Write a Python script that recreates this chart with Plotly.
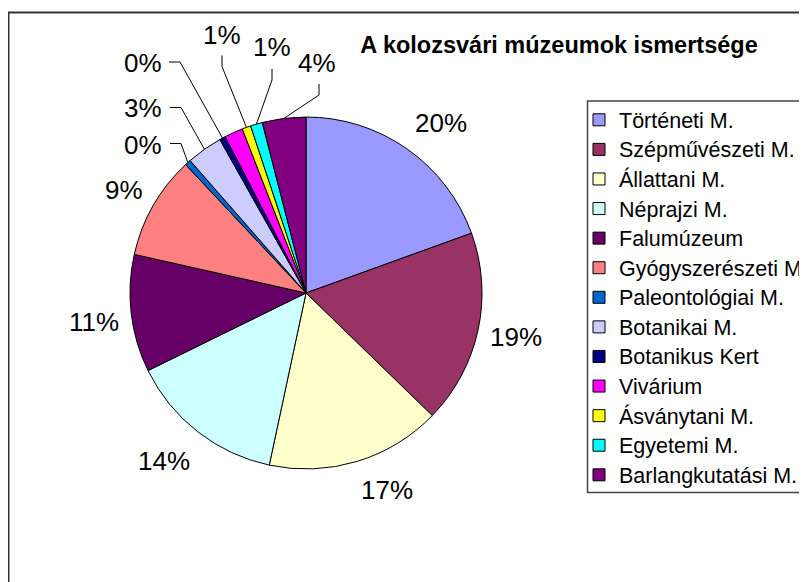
import math
import plotly.graph_objects as go

# ---- data ----
museums = [
    "Történeti M.", "Szépművészeti M.", "Állattani M.", "Néprajzi M.",
    "Falumúzeum", "Gyógyszerészeti M.", "Paleontológiai M.", "Botanikai M.",
    "Botanikus Kert", "Vivárium", "Ásványtani M.", "Egyetemi M.",
    "Barlangkutatási M.",
]
shares = [19.5, 17.8, 16.1, 14.4, 10.8, 9.5, 0.55, 3.3, 0.55, 1.7, 0.8, 1.1, 4.0]
pct_labels = ["20%", "19%", "17%", "14%", "11%", "9%", "0%", "3%", "0%", "", "1%", "1%", "4%"]
colors = [
    "#9999FF", "#993366", "#FFFFCC", "#CCFFFF", "#660066", "#FF8080",
    "#0066CC", "#CCCCFF", "#000080", "#FF00FF", "#FFFF00", "#00FFFF", "#800080",
]
title_text = "A kolozsvári múzeumok ismertsége"

# ---- layout helpers (page pixels; the page has an 8px body margin) ----
PAGE_OFF = 8
FW, FH = 807 - PAGE_OFF, 582 - PAGE_OFF
FONT = "Liberation Sans, Arial, sans-serif"


def px(X):
    return (X - PAGE_OFF) / FW


def py(Y):
    return 1 - (Y - PAGE_OFF) / FH


CX, CY, R = 306, 293, 176          # pie centre and radius (page px)
# label placement (page px): text centre, and for leader lines a bend point + side
label_place = {
    0: ((441.5, 123), None, None),
    1: ((516.5, 337), None, None),
    2: ((386.5, 489.5), None, None),
    3: ((163.5, 461), None, None),
    4: ((94, 322), None, None),
    5: ((124, 190), None, None),
    6: ((143, 145), (181, 143.5), "left"),
    7: ((143, 108), (181, 107.5), "left"),
    8: ((143, 63), (180, 62), "left"),
    10: ((222, 35), (222, 66.5), "top"),
    11: ((272, 47), (272, 80), "top"),
    12: ((317, 63), (319, 95), "top"),
}

# legend text slightly larger than the legend row pitch font
legend_names = ['<span style="font-size:21.5px">{}</span>'.format(m) for m in museums]

fig = go.Figure(
    go.Pie(
        labels=legend_names,
        values=shares,
        textinfo="none",
        sort=False,
        direction="clockwise",
        rotation=0,
        marker=dict(colors=colors, line=dict(color="black", width=1)),
        domain=dict(x=[px(CX - R), px(CX + R)], y=[py(CY + R), py(CY - R)]),
        showlegend=True,
        hovertext=museums,
        hoverinfo="text+percent",
    )
)

# ---- data labels; leader lines end at each slice's mid-angle on the rim ----
total = sum(shares)
annotations = []
shapes = [
    # chart area border
    dict(type="rect", xref="paper", yref="paper",
         x0=px(8.5), x1=1.05, y0=-0.05, y1=py(12.5),
         line=dict(color="#333333", width=2), fillcolor="rgba(0,0,0,0)", layer="below"),
    # legend box
    dict(type="rect", xref="paper", yref="paper",
         x0=px(587.5), x1=1.05, y0=py(492.5), y1=py(101),
         line=dict(color="#444444", width=1.5), fillcolor="white", layer="below"),
]
cum = 0.0
for i, (v, lab) in enumerate(zip(shares, pct_labels)):
    mid = (cum + v / 2) / total * 2 * math.pi
    cum += v
    if not lab:
        continue
    (tx, ty), bend, side = label_place[i]
    if bend is not None:
        ex, ey = CX + R * math.sin(mid), CY - R * math.cos(mid)
        bx, by = bend
        sx, sy = (bx - 11, by) if side == "left" else (bx, by - 11)
        path = "M {} {} L {} {} L {} {}".format(px(sx), py(sy), px(bx), py(by), px(ex), py(ey))
        shapes.append(dict(type="path", xref="paper", yref="paper", path=path,
                           line=dict(color="black", width=1)))
    annotations.append(dict(
        x=px(tx), y=py(ty), xref="paper", yref="paper", text=lab, showarrow=False,
        xanchor="center", yanchor="middle",
        font=dict(size=26, family=FONT, color="black"),
    ))

fig.update_layout(
    width=FW,
    height=FH,
    margin=dict(l=0, r=0, t=0, b=0, autoexpand=False),
    paper_bgcolor="white",
    plot_bgcolor="white",
    font=dict(family=FONT, color="black"),
    title=dict(
        text="<b>" + title_text + "</b>",
        x=px(559), y=py(44.5),
        xanchor="center", yanchor="middle", xref="paper", yref="paper",
        font=dict(size=23.5, family=FONT, color="black"),
    ),
    legend=dict(
        x=px(579), y=py(100),
        xanchor="left", yanchor="top",
        bgcolor="rgba(0,0,0,0)",
        borderwidth=0,
        font=dict(size=20.45, family=FONT, color="black"),
        traceorder="normal",
        itemclick=False,
    ),
    shapes=shapes,
    annotations=annotations,
)

fig.write_html("out.html")
